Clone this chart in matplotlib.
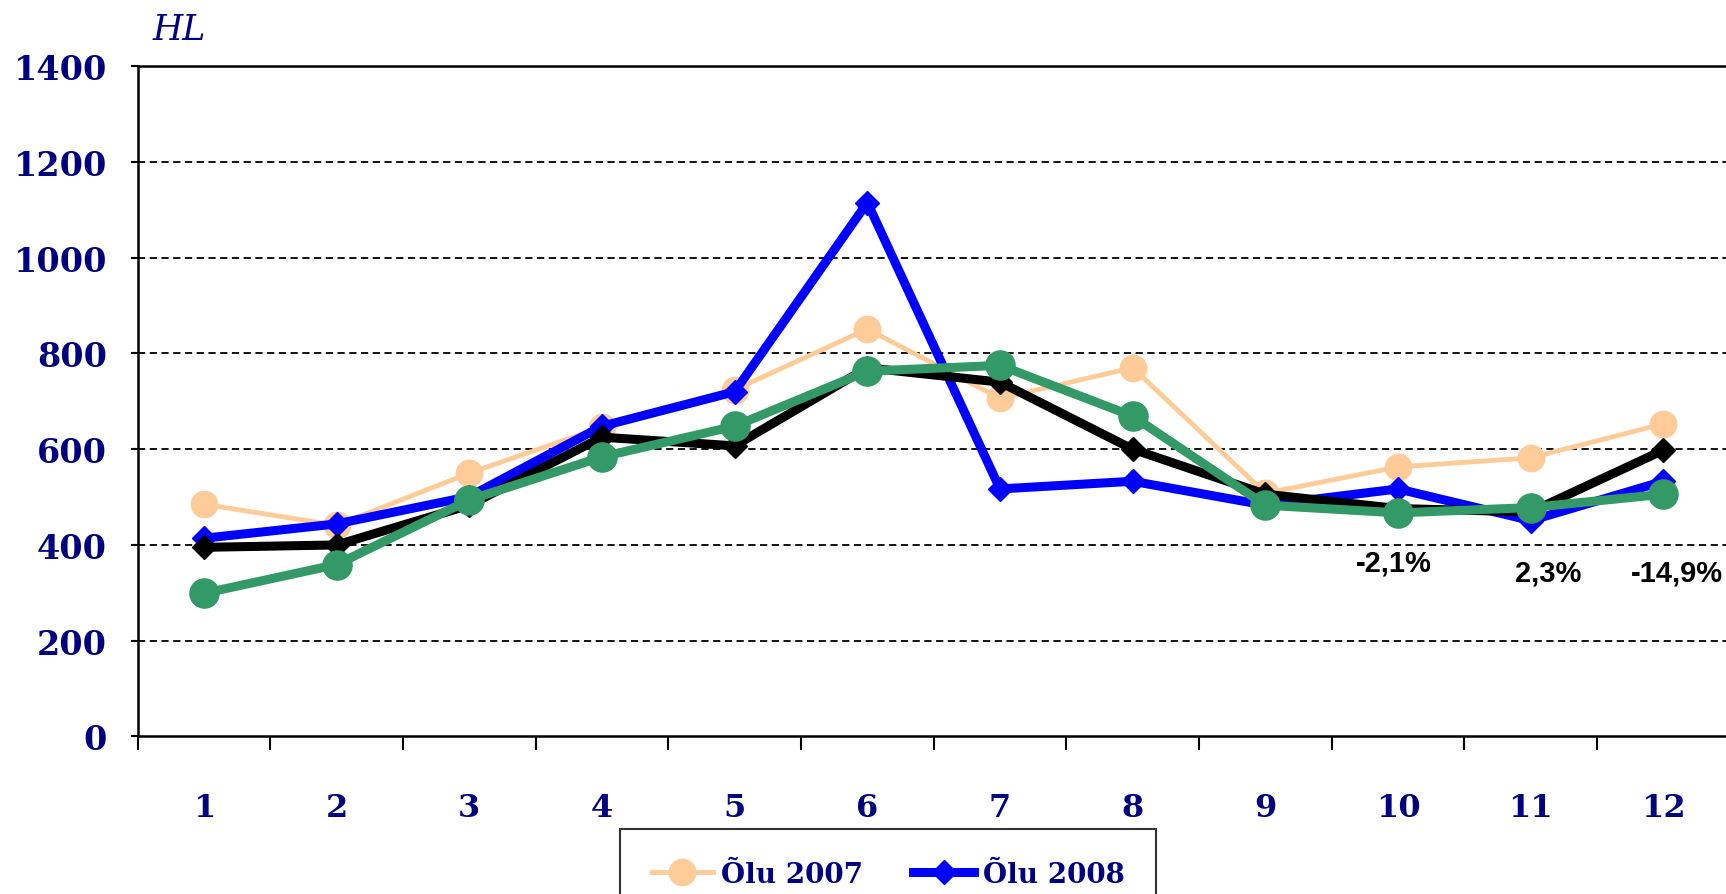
import matplotlib
matplotlib.use('Agg')
import matplotlib.pyplot as plt

months = ['1', '2', '3', '4', '5', '6', '7', '8', '9', '10', '11', '12']
olu_2007 = [485, 441, 550, 646, 724, 851, 706, 770, 508, 563, 582, 653]
olu_2008 = [414, 444, 501, 648, 720, 1115, 517, 533, 483, 517, 451, 533]
olu_2009 = [395, 400, 483, 625, 607, 770, 740, 600, 506, 476, 469, 598]
olu_2010 = [299, 359, 494, 584, 648, 763, 775, 669, 483, 467, 478, 506]
change_labels = ['-2,1%', '2,3%', '-14,9%']
change_pos = [(8.97, 363), (10.13, 343), (11.1, 343)]
y_ticks = [0, 200, 400, 600, 800, 1000, 1200, 1400]

navy = '#000080'
serif = 'DejaVu Serif'

fig = plt.figure(figsize=(17.26, 8.95), dpi=100)
ax = fig.add_axes([0.0797, 0.176, 0.9225, 0.749])

x = list(range(len(months)))
l07, = ax.plot(x, olu_2007, color='#FFCC99', lw=3.5, marker='o', ms=19, label='Õlu 2007', zorder=3)
l08, = ax.plot(x, olu_2008, color='#0000FF', lw=6.5, marker='D', ms=12, label='Õlu 2008', zorder=4)
ax.plot(x, olu_2009, color='black', lw=6.5, marker='D', ms=12, label='Õlu 2009', zorder=5)
ax.plot(x, olu_2010, color='#339966', lw=6.5, marker='o', ms=21, label='Õlu 2010', zorder=6)

for txt, pos in zip(change_labels, change_pos):
    ax.text(pos[0], pos[1], txt, ha='center', va='center', fontsize=21,
            fontweight='bold', family='Liberation Sans', color='black')

ax.set_xlim(-0.5, len(months) - 0.5)
ax.set_ylim(0, 1400)
ax.set_yticks(y_ticks)
ax.set_yticklabels([str(v) for v in y_ticks], fontsize=24, fontweight='bold',
                   family=serif, color=navy)
ax.set_xticks([i + 0.5 for i in range(-1, len(months))])
ax.set_xticklabels([])
ax.set_xticks(x, minor=True)
ax.set_xticklabels(months, minor=True, fontsize=23, fontweight='bold',
                   family=serif, color=navy)
ax.tick_params(axis='x', which='major', direction='out', length=10, width=1.5)
ax.tick_params(axis='x', which='minor', length=0, pad=40)
ax.tick_params(axis='y', direction='out', length=5, width=1.5, pad=17)

for v in y_ticks[1:-1]:
    ax.axhline(v, color='black', lw=1.3, ls=(0, (4, 2.5)), zorder=1)
for s in ['left', 'bottom', 'top']:
    ax.spines[s].set_linewidth(1.8)
ax.spines['right'].set_visible(False)

fig.text(0.104, 0.966, 'HL', fontsize=25, style='italic', family=serif,
         color=navy, ha='center', va='center')

leg = fig.legend(handles=[l07, l08], loc='upper center', bbox_to_anchor=(0.5145, 0.088),
                 ncol=2, frameon=True, fancybox=False, edgecolor='black',
                 prop={'family': serif, 'weight': 'bold', 'size': 20},
                 handlelength=2.2, handletextpad=0.3, columnspacing=1.8, borderpad=1.15)
leg.get_frame().set_linewidth(1.5)
for t in leg.get_texts():
    t.set_color(navy)

fig.savefig('out.png', dpi=100)
